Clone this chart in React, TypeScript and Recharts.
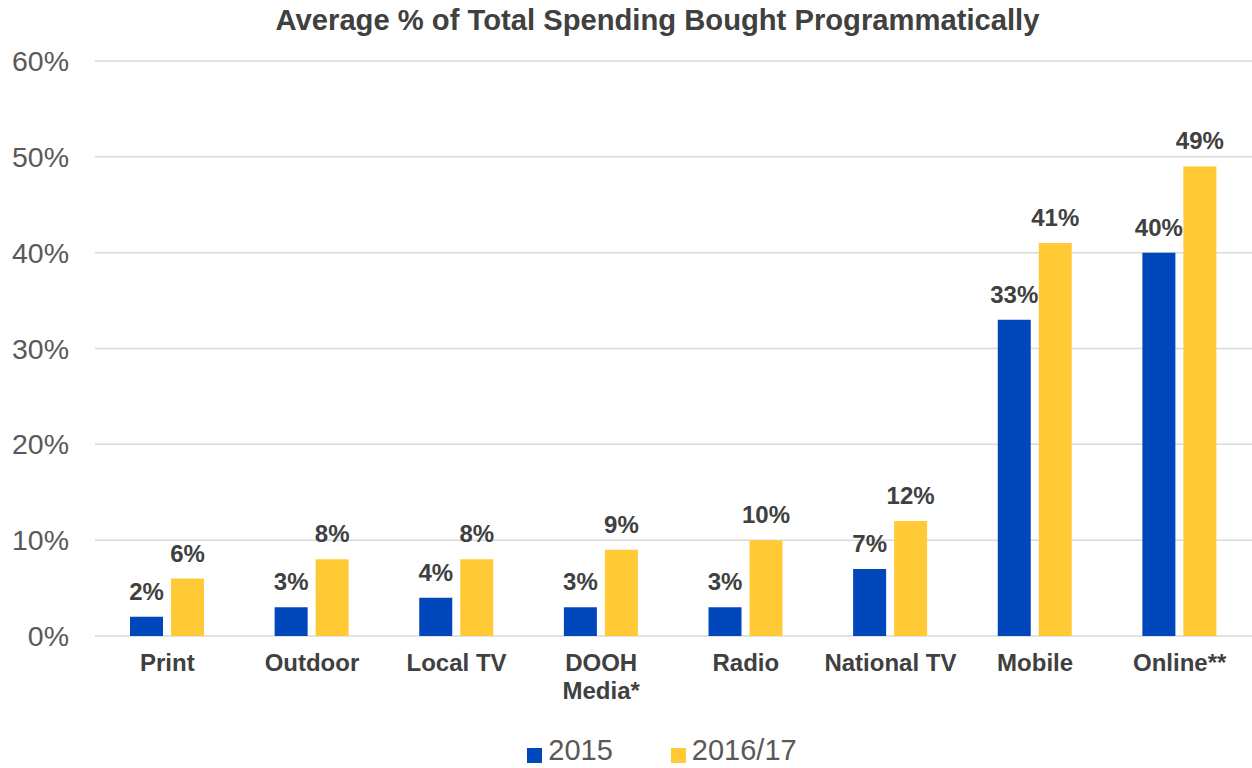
import React from 'react';
import { BarChart, Bar, XAxis, YAxis, CartesianGrid, LabelList, Legend } from 'recharts';

const categories = ['Print', 'Outdoor', 'Local TV', 'DOOH\nMedia*', 'Radio', 'National TV', 'Mobile', 'Online**'];
const values2015 = [2, 3, 4, 3, 3, 7, 33, 40];
const values2016 = [6, 8, 8, 9, 10, 12, 41, 49];
const yTicks = [0, 10, 20, 30, 40, 50, 60];
const seriesNames = ['2015', '2016/17'];
const seriesColors = ['#0047BB', '#FFCA35'];
const title = 'Average % of Total Spending Bought Programmatically';

const data = categories.map((c, i) => ({ category: c, s2015: values2015[i], s2016: values2016[i] }));

const FONT = '"Liberation Sans", Arial, sans-serif';
const DARK = '#404040';
const GREY = '#595959';

const XTick = (props: any) => {
  const { x, y, payload } = props;
  const lines = String(payload.value).split('\n');
  return (
    <g transform={`translate(${x},${y})`}>
      <text textAnchor="middle" fill={DARK} fontSize={24} fontWeight="bold" fontFamily={FONT}>
        {lines.map((l, i) => (
          <tspan key={i} x={0} dy={i === 0 ? 35 : 28}>{l}</tspan>
        ))}
      </text>
    </g>
  );
};

const LegendContent = () => (
  <div style={{ height: 40, display: 'flex', justifyContent: 'center', alignItems: 'flex-start', paddingTop: 6, paddingLeft: 72, boxSizing: 'border-box', fontFamily: FONT }}>
    {seriesNames.map((n, i) => (
      <div key={n} style={{ display: 'flex', alignItems: 'flex-start', marginRight: i === 0 ? 58 : 0 }}>
        <div style={{ width: 15, height: 15, background: seriesColors[i], marginRight: 6, marginTop: 14 }} />
        <span style={{ fontSize: 29, color: GREY, lineHeight: '32px', display: 'inline-block', height: 32 }}>{n}</span>
      </div>
    ))}
  </div>
);

export default function App() {
  return (
    <div style={{ position: 'absolute', left: 0, top: 0, width: 1252, height: 768, background: '#fff' }}>
      <div style={{ position: 'absolute', left: 0, top: 4, width: 1315, textAlign: 'center', fontFamily: FONT, fontWeight: 'bold', fontSize: 29.2, color: DARK }}>
        {title}
      </div>
      <BarChart
        width={1252}
        height={768}
        data={data}
        margin={{ top: 61, right: 0, bottom: 0, left: 0 }}
        barSize={33}
        barGap={8}
      >
        <CartesianGrid vertical={false} stroke="#D9D9D9" strokeWidth={1.5} />
        <XAxis
          dataKey="category"
          axisLine={false}
          tickLine={false}
          tickSize={0}
          tickMargin={0}
          height={92}
          interval={0}
          tick={<XTick />}
        />
        <YAxis
          domain={[0, 60]}
          ticks={yTicks}
          width={95}
          axisLine={false}
          tickLine={false}
          tickMargin={20}
          tickFormatter={(v: number) => `${v}%`}
          tick={{ fill: GREY, fontSize: 28.5, fontFamily: FONT }}
        />
        <Legend verticalAlign="bottom" content={<LegendContent />} />
        <Bar dataKey="s2015" name={seriesNames[0]} fill={seriesColors[0]} isAnimationActive={false}>
          <LabelList dataKey="s2015" position="top" offset={17} formatter={(v: any) => `${v}%`} fill={DARK} fontSize={24} fontWeight="bold" fontFamily={FONT} />
        </Bar>
        <Bar dataKey="s2016" name={seriesNames[1]} fill={seriesColors[1]} isAnimationActive={false}>
          <LabelList dataKey="s2016" position="top" offset={17} formatter={(v: any) => `${v}%`} fill={DARK} fontSize={24} fontWeight="bold" fontFamily={FONT} />
        </Bar>
      </BarChart>
    </div>
  );
}
